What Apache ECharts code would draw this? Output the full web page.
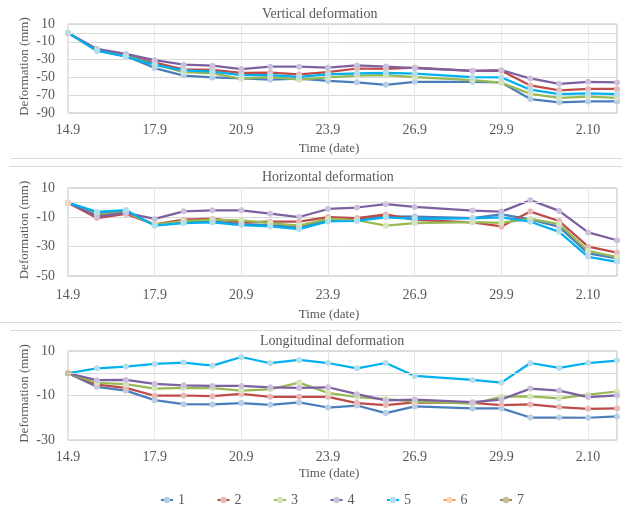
<!DOCTYPE html>
<html>
<head>
<meta charset="utf-8">
<script src="https://cdn.jsdelivr.net/npm/echarts@6/dist/echarts.min.js"></script>
<style>html,body{margin:0;padding:0;background:#fff}#c{width:622px;height:505px}</style>
</head>
<body>
<div id="c"></div>
<script>
// ---- data ----
const dates = ['14.9','15.9','16.9','17.9','18.9','19.9','20.9','21.9','22.9','23.9','24.9','25.9','26.9','27.9','28.9','29.9','30.9','1.10','2.10','3.10'];
const seriesNames = ['1','2','3','4','5','6','7'];
const chartTitles = ['Vertical deformation','Horizontal deformation','Longitudinal deformation'];
const xAxisTitle = 'Time (date)';
const yAxisTitle = 'Deformation (mm)';
const verticalTicks = [-90, 10, 20];      // min, max, step
const horizontalTicks = [-50, 10, 20];
const longitudinalTicks = [-30, 10, 20];

const vertical1 = [0,-20,-26,-39.5,-48,-50,-51,-52.5,-51.5,-54,-55.5,-58.3,-55,null,-55,-55.7,-74.3,-78,-77,-77];
const vertical2 = [0,-19,-25,-33.5,-41,-41.5,-45,-44.5,-46.5,-44,-40,-40.4,-39,null,-42.6,-42.6,-59,-64.5,-63,-63];
const vertical3 = [0,-19.5,-25.5,-35.5,-44,-45.5,-51.5,-49.5,-52.5,-50,-48,-47.5,-49.7,null,-53,-56,-68.5,-73,-71.5,-73];
const vertical4 = [0,-18,-23.6,-30.7,-35.7,-36.8,-40.7,-38,-38,-38.9,-36.5,-37.8,-39.6,null,-42.6,-41.9,-51.2,-57.2,-55,-55.7];
const vertical5 = [0,-20,-26.6,-36,-42,-43.4,-47.5,-47.5,-49.5,-46.5,-45.5,-45,-45.8,null,-49.7,-50,-63.8,-68.7,-68,-68.7];

const horizontal1 = [0,-7.5,-5.8,-15.2,-13.4,-12.8,-14.6,-15.3,-16.9,-12,-11.5,-9.3,-9.5,null,-10.5,-8,-11.4,-16.5,-34.6,-38];
const horizontal2 = [0,-10.5,-7.7,-14.8,-11.6,-10.9,-13.4,-13,-13,-9.8,-10.5,-8,-11.8,null,-13.4,-16.2,-6.1,-12.5,-30,-34.1];
const horizontal3 = [0,-8.4,-6.6,-15,-12.5,-11.6,-12,-13.9,-15.7,-11.1,-12,-15.7,-14,null,-13.2,-13.7,-11.1,-14.6,-32.8,-37.1];
const horizontal4 = [0,-9.3,-7,-11.1,-5.9,-5.2,-5.2,-7.5,-9.8,-4.3,-3.3,-1,-2.9,null,-5.4,-6.1,1.7,-5.6,-20.3,-25.6];
const horizontal5 = [0,-6.3,-5,-15.7,-13.9,-13.4,-15.3,-16.2,-18,-12.8,-12.5,-10,-11,null,-10.7,-10,-13,-19.9,-36.9,-40.3];
const horizontal6 = [0,null,null,null,null,null,null,null,null,null,null,null,null,null,null,null,null,null,null,null];

const longitudinal1 = [0,-6.1,-7.8,-12.1,-13.9,-14,-13.4,-14.2,-13.1,-15.4,-14.5,-17.9,-14.9,null,-15.8,-15.8,-19.9,-19.9,-20,-19.4];
const longitudinal2 = [0,-5.1,-6.6,-10.1,-10,-10.3,-9.3,-10.6,-10.6,-10.6,-13.4,-14.3,-13.1,null,-13.3,-14.3,-14,-15.2,-16,-15.8];
const longitudinal3 = [0,-4.3,-4.9,-6.9,-6.6,-6.7,-7.8,-7.2,-4.2,-8.8,-10.7,-11.6,-12.7,null,-13.7,-10.6,-10.4,-11.3,-9.6,-8.2];
const longitudinal4 = [0,-3.1,-3,-4.8,-5.4,-5.7,-5.7,-6.3,-6.6,-6.3,-9.4,-12.2,-11.8,null,-13,-11.8,-6.9,-7.8,-10.7,-9.9];
const longitudinal5 = [0,2.2,3,4.2,4.8,3.4,7.3,4.5,6,4.6,2.2,4.6,-1.2,null,-3,-4.2,4.6,2.4,4.6,5.7];
const longitudinal6 = [0,null,null,null,null,null,null,null,null,null,null,null,null,null,null,null,null,null,null,null];
const longitudinal7 = [0,null,null,null,null,null,null,null,null,null,null,null,null,null,null,null,null,null,null,null];

// ---- styles ----
const lineColors = ['#4A7EBB','#BE4B48','#98B954','#7D60A0','#00B0F0','#F79646','#948A54'];
const markerColors = ['#B9CDE5','#E6B9B8','#D7E4BD','#CCC1DA','#B7DEE8','#FCD5B5','#C4BD97'];
const txt = '#595959';
const font = 'Liberation Serif, Times New Roman, serif';

const panels = [
  {ticks: verticalTicks, series: [vertical1,vertical2,vertical3,vertical4,vertical5], top: 24, height: 89, labelMargin: 10, nameGap: 29.5, titleTop: 7, titleLeft: 262},
  {ticks: horizontalTicks, series: [horizontal1,horizontal2,horizontal3,horizontal4,horizontal5,horizontal6], top: 188, height: 88, labelMargin: 12, nameGap: 32, titleTop: 170, titleLeft: 262},
  {ticks: longitudinalTicks, series: [longitudinal1,longitudinal2,longitudinal3,longitudinal4,longitudinal5,longitudinal6,longitudinal7], top: 351, height: 89, labelMargin: 10, nameGap: 27, titleTop: 334, titleLeft: 260}
];

const grid = [], xAxis = [], yAxis = [], series = [], title = [];
panels.forEach((p, gi) => {
  grid.push({left: 68, width: 549, top: p.top, height: p.height, show: true, borderColor: '#BFBFBF', borderWidth: 1, backgroundColor: 'transparent'});
  title.push({text: chartTitles[gi], left: p.titleLeft, top: p.titleTop, padding: 0, textAlign: 'left',
    textStyle: {color: txt, fontFamily: font, fontSize: 14, fontWeight: 'normal'}});
  xAxis.push({type: 'category', gridIndex: gi, data: dates, boundaryGap: false,
    axisLine: {show: false, onZero: false}, axisTick: {show: false},
    axisLabel: {interval: 2, color: txt, fontFamily: font, fontSize: 14, margin: p.labelMargin},
    splitLine: {show: true, interval: 2, lineStyle: {color: '#E8E8E8', width: 1}},
    name: xAxisTitle, nameLocation: 'middle', nameGap: p.nameGap, nameMoveOverlap: false,
    nameTextStyle: {color: txt, fontFamily: font, fontSize: 13, padding: [0, 27, 0, 0]}});
  yAxis.push({type: 'value', gridIndex: gi, min: p.ticks[0], max: p.ticks[1], interval: p.ticks[2],
    axisLine: {show: false}, axisTick: {show: false},
    axisLabel: {color: txt, fontFamily: font, fontSize: 14, margin: 13},
    splitLine: {show: true, lineStyle: {color: '#D9D9D9', width: 1}},
    name: yAxisTitle, nameLocation: 'middle', nameGap: 37, nameMoveOverlap: false,
    nameTextStyle: {color: txt, fontFamily: font, fontSize: 13, padding: [0, 0, 0, 4]}});
  p.series.forEach((d, si) => {
    const s = {
      name: seriesNames[si], type: 'line', xAxisIndex: gi, yAxisIndex: gi, data: d,
      connectNulls: true, symbol: 'circle', symbolSize: 6, showSymbol: true, showAllSymbol: true,
      lineStyle: {color: lineColors[si], width: 2.25},
      itemStyle: {color: markerColors[si], borderWidth: 0},
      emphasis: {disabled: true}, animation: false
    };
    if (si === 0) {
      s.markLine = {silent: true, symbol: 'none', animation: false, label: {show: false},
        lineStyle: {color: '#D9D9D9', type: 'solid', width: 1}, emphasis: {disabled: true},
        data: [{yAxis: 0}]};
    }
    series.push(s);
  });
});

const sep = (x1, y) => ({type: 'line', silent: true, shape: {x1: x1, y1: y, x2: 622, y2: y}, style: {stroke: '#D9D9D9', lineWidth: 1}});

const chart = echarts.init(document.getElementById('c'), null, {renderer: 'canvas'});
chart.setOption({
  animation: false,
  backgroundColor: '#fff',
  title: title,
  grid: grid,
  xAxis: xAxis,
  yAxis: yAxis,
  series: series,
  legend: {data: seriesNames, left: 155, top: 488, itemWidth: 12, itemHeight: 8, itemGap: 31.5,
    textStyle: {color: txt, fontFamily: font, fontSize: 14}},
  graphic: [sep(11, 158.5), sep(9, 166.5), sep(0, 322.5), sep(10, 330.5)]
});
</script>
</body>
</html>
